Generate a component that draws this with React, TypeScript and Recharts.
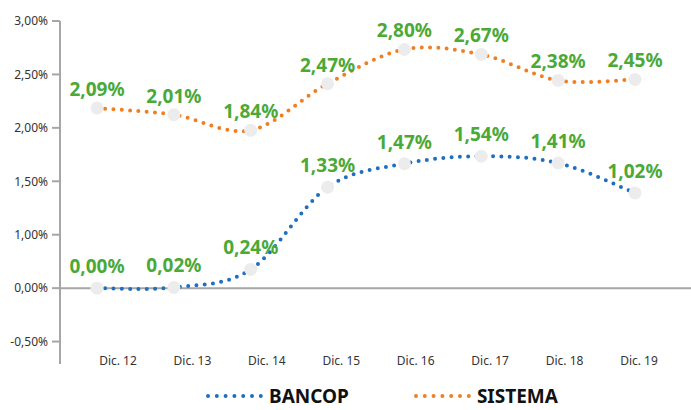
import React from "react";
import { LineChart, Line, XAxis, YAxis, CartesianGrid, LabelList } from "recharts";

const categories = ["Dic. 12", "Dic. 13", "Dic. 14", "Dic. 15", "Dic. 16", "Dic. 17", "Dic. 18", "Dic. 19"];

// plotted positions and the printed labels
const bancopValues = [0.0, 0.007, 0.175, 0.944, 1.165, 1.234, 1.171, 0.891];
const sistemaValues = [1.685, 1.623, 1.477, 1.913, 2.234, 2.187, 1.944, 1.953];
const bancopLabels = ["0,00%", "0,02%", "0,24%", "1,33%", "1,47%", "1,54%", "1,41%", "1,02%"];
const sistemaLabels = ["2,09%", "2,01%", "1,84%", "2,47%", "2,80%", "2,67%", "2,38%", "2,45%"];

const yTicks = [-0.5, 0, 0.5, 1, 1.5, 2, 2.5];
const yTickLabels = ["-0,50%", "0,00%", "1,00%", "1,50%", "2,00%", "2,50%", "3,00%"];

const seriesNames = ["BANCOP", "SISTEMA"];

const BLUE = "#1f6fc0";
const ORANGE = "#f07f22";
const GREEN = "#4aa937";
const AXIS = "#a6a6a6";
const FONT = "'Noto Sans', sans-serif";

const data = categories.map((name, i) => ({
  name,
  bancop: bancopValues[i],
  sistema: sistemaValues[i],
  bancopLabel: bancopLabels[i],
  sistemaLabel: sistemaLabels[i],
}));

// smoothed line like the spreadsheet one (catmull-rom through the points)
function smoothCurve(context: any) {
  let pts: number[][] = [];
  return {
    areaStart() {},
    areaEnd() {},
    lineStart() {
      pts = [];
    },
    point(x: number, y: number) {
      pts.push([+x, +y]);
    },
    lineEnd() {
      const n = pts.length;
      if (!n) return;
      context.moveTo(pts[0][0], pts[0][1]);
      for (let i = 0; i < n - 1; i++) {
        const p0 = pts[i - 1] || pts[i];
        const p1 = pts[i];
        const p2 = pts[i + 1];
        const p3 = pts[i + 2] || p2;
        context.bezierCurveTo(
          p1[0] + (p2[0] - p0[0]) / 6,
          p1[1] + (p2[1] - p0[1]) / 6,
          p2[0] - (p3[0] - p1[0]) / 6,
          p2[1] - (p3[1] - p1[1]) / 6,
          p2[0],
          p2[1]
        );
      }
    },
  };
}

function XTick(props: any) {
  const { x, y, payload } = props;
  return (
    <text x={x} y={y + 1} textAnchor="middle" fill="#333" fontSize={12} fontFamily={FONT}>
      {payload.value}
    </text>
  );
}

function LegendItem({ name, color }: { name: string; color: string }) {
  return (
    <div style={{ display: "flex", alignItems: "center" }}>
      <svg width={58} height={8} style={{ marginRight: 6 }}>
        <line x1={3} y1={4} x2={56} y2={4} stroke={color} strokeWidth={4} strokeLinecap="round" strokeDasharray="0 8.8" />
      </svg>
      <span style={{ fontFamily: FONT, fontWeight: 700, fontSize: 19, lineHeight: "20px", color: "#111" }}>{name}</span>
    </div>
  );
}

export default function App() {
  return (
    <div style={{ position: "relative", width: 691, height: 410 }}>
      <style>{`body{margin:0}`}</style>
      <LineChart width={691} height={410} data={data} margin={{ top: 21, right: 0, bottom: 0, left: 0 }}>
        <CartesianGrid vertical={false} horizontalValues={[0]} stroke={AXIS} strokeWidth={2} />
        <XAxis
          dataKey="name"
          height={46}
          axisLine={false}
          tickLine={false}
          tickSize={0}
          tickMargin={0}
          padding={{ left: 58, right: 52 }}
          tick={<XTick />}
          interval={0}
        />
        <XAxis xAxisId="pts" dataKey="name" hide padding={{ left: 37, right: 56 }} />
        <YAxis
          width={60}
          domain={[-0.71, 2.5]}
          ticks={yTicks}
          interval={0}
          tickFormatter={(v: number) => yTickLabels[yTicks.indexOf(v)]}
          axisLine={{ stroke: AXIS, strokeWidth: 2 }}
          tickLine={{ stroke: AXIS, strokeWidth: 2 }}
          tickSize={8}
          tickMargin={4}
          tick={{ fill: "#333", fontSize: 12, fontFamily: FONT }}
        />
        <Line
          xAxisId="pts"
          dataKey="sistema"
          stroke="none"
          dot={{ r: 6.5, fill: "#ececec", stroke: "none" }}
          activeDot={false}
          isAnimationActive={false}
        />
        <Line
          xAxisId="pts"
          dataKey="bancop"
          stroke="none"
          dot={{ r: 6.5, fill: "#ececec", stroke: "none" }}
          activeDot={false}
          isAnimationActive={false}
        />
        <Line
          xAxisId="pts"
          dataKey="sistema"
          type={smoothCurve as any}
          stroke={ORANGE}
          strokeWidth={4}
          strokeLinecap="round"
          strokeDasharray="0 8.3"
          dot={false}
          activeDot={false}
          isAnimationActive={false}
        >
          <LabelList dataKey="sistemaLabel" position="top" offset={12} fill={GREEN} fontSize={19} fontWeight={700} fontFamily={FONT} />
        </Line>
        <Line
          xAxisId="pts"
          dataKey="bancop"
          type={smoothCurve as any}
          stroke={BLUE}
          strokeWidth={4}
          strokeLinecap="round"
          strokeDasharray="0 8.3"
          dot={false}
          activeDot={false}
          isAnimationActive={false}
        >
          <LabelList dataKey="bancopLabel" position="top" offset={15} fill={GREEN} fontSize={19} fontWeight={700} fontFamily={FONT} />
        </Line>
      </LineChart>
      <div style={{ position: "absolute", left: 205, top: 386, height: 20, display: "flex", alignItems: "center", gap: 64 }}>
        <LegendItem name={seriesNames[0]} color={BLUE} />
        <LegendItem name={seriesNames[1]} color={ORANGE} />
      </div>
    </div>
  );
}
